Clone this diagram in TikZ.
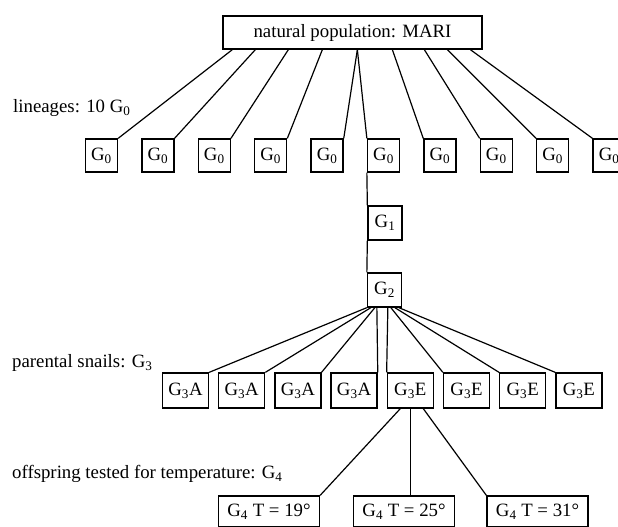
\documentclass[tikz,border=0pt]{standalone}
\usepackage{fontspec}
\setmainfont{Liberation Serif}
\usepackage{tikz}
\usetikzlibrary{calc}

\tikzset{
	genbox/.style={draw, line width=1.3pt, inner sep=0pt, minimum width=32pt, minimum height=33pt},
	pairbox/.style={genbox, minimum width=46pt, minimum height=35pt},
	tempbox/.style={genbox, minimum width=101pt, minimum height=31pt},
	rowlabel/.style={anchor=west, inner sep=0pt},
	link/.style={line width=1.2pt}
}

\begin{document}
\begin{tikzpicture}[x=1pt, y=-1pt, font=\fontsize{18.8}{22}\selectfont]
			\useasboundingbox (0,0) rectangle (618,527);
			\node(pop)[genbox, minimum width=259pt] at (352.5,32.5) {natural population: MARI};
			\node(lin)[rowlabel] at (13,108) {lineages: 10 G\textsubscript{0}};
			\foreach \i in {1,...,10}
				\node(g0\i)[genbox] at ({101.5+(\i-1)*56.4},155.5) {G\textsubscript{0}};
			\foreach \i/\dx in {1/10,2/33,3/66,4/100,5/135}
				\draw[link] ([xshift=\dx pt]pop.south west) -- (g0\i.north east);
			\foreach \i/\dx in {6/135,7/170,8/202,9/225,10/248}
				\draw[link] ([xshift=\dx pt]pop.south west) -- (g0\i.north west);
			\node(g1)[genbox, minimum width=34pt, minimum height=34pt] at (385,223) {G\textsubscript{1}};
			\node(g2)[genbox, minimum width=34pt, minimum height=34pt] at (384.5,290) {G\textsubscript{2}};
			\draw[link] (g06.south west) -- (g1.north west);
			\draw[link] (g1.south west) -- (g2.north west);
			\node(par)[rowlabel] at (12,363) {parental snails: G\textsubscript{3}};
			\foreach \i/\t in {1/A,2/A,3/A,4/A,5/E,6/E,7/E,8/E}
				\node(g3\i)[pairbox] at ({185.5+(\i-1)*56.2},390.5) {G\textsubscript{3}\t};
			\foreach \i/\dx in {1/0,2/4,3/8,4/10}
				\draw[link] ([xshift=\dx pt]g2.south west) -- (g3\i.north east);
			\foreach \i/\dx in {5/21,6/24,7/28,8/32}
				\draw[link] ([xshift=\dx pt]g2.south west) -- (g3\i.north west);
			\node(off)[rowlabel] at (12,474) {offspring tested for temperature: G\textsubscript{4}};
			\node(g41)[tempbox] at (269,511.5) {G\textsubscript{4} T = 19°};
			\node(g42)[tempbox] at (404,511.5) {G\textsubscript{4} T = 25°};
			\node(g43)[tempbox] at (537.5,511.5) {G\textsubscript{4} T = 31°};
			\draw[link] ([xshift=-10pt]g35.south) -- (g41.north east);
			\draw[link] (g35.south) -- (g35.south |- g42.north);
			\draw[link] ([xshift=13pt]g35.south) -- (g43.north west);
		\end{tikzpicture}
\end{document}
